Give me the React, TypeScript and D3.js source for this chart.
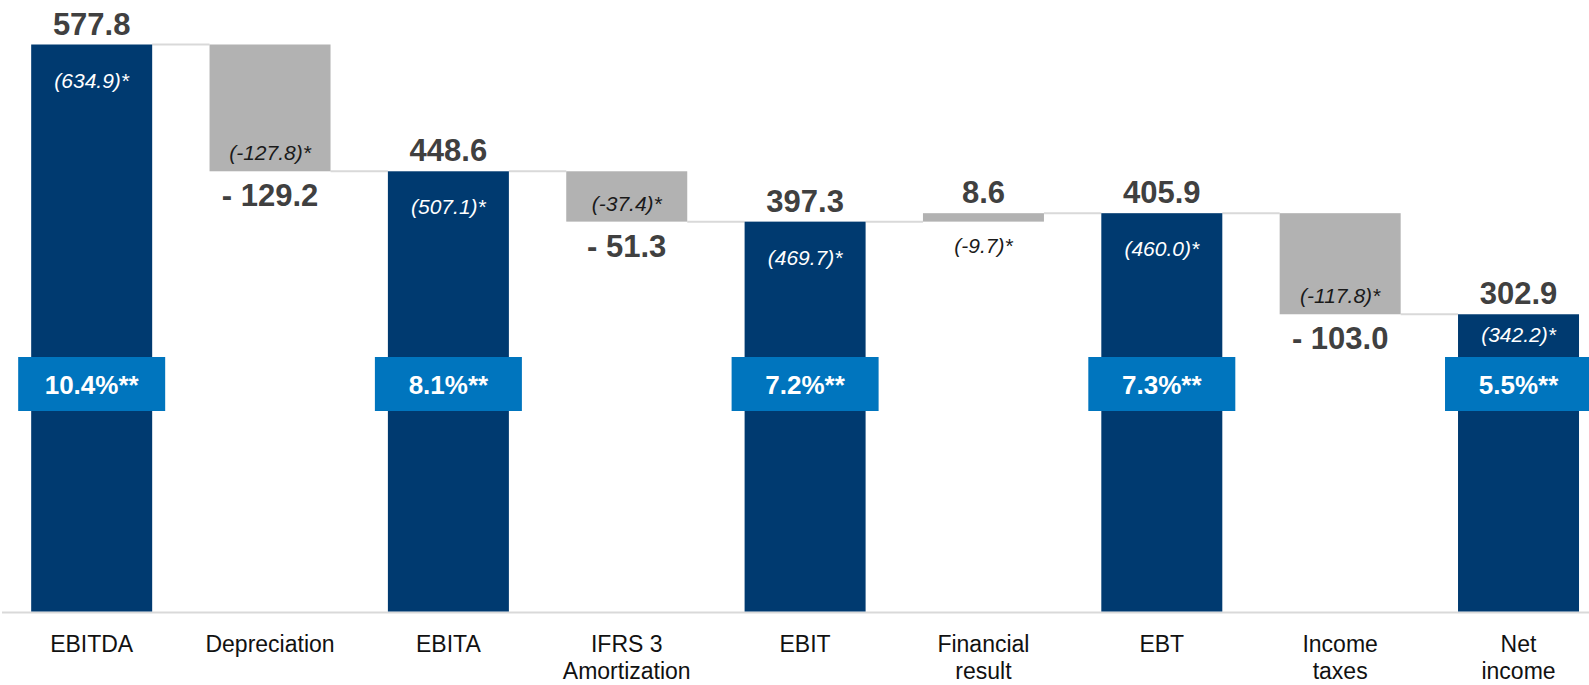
import React from "react";
import * as d3 from "d3";

const categories = ["EBITDA", "Depreciation", "EBITA", "IFRS 3\nAmortization", "EBIT", "Financial\nresult", "EBT", "Income\ntaxes", "Net\nincome"];
const values = [577.8, -129.2, 448.6, -51.3, 397.3, 8.6, 405.9, -103.0, 302.9];
const isTotal = [true, false, true, false, true, false, true, false, true];
const valueLabels = ["577.8", "- 129.2", "448.6", "- 51.3", "397.3", "8.6", "405.9", "- 103.0", "302.9"];
const adjustedLabels = ["(634.9)*", "(-127.8)*", "(507.1)*", "(-37.4)*", "(469.7)*", "(-9.7)*", "(460.0)*", "(-117.8)*", "(342.2)*"];
const marginLabels = ["10.4%**", "", "8.1%**", "", "7.2%**", "", "7.3%**", "", "5.5%**"];

const W = 1589;
const H = 685;
const NAVY = "#003a70";
const GREY = "#b2b2b2";
const BLUE = "#0075be";
const LINE = "#d9d9d9";
const FONT = "'Liberation Sans', Arial, sans-serif";

export default function App() {
  const x = d3.scaleBand<string>().domain(categories).range([2.5, 1607.7]).paddingInner(0.3216).paddingOuter(0.1608);
  const y = d3.scaleLinear().domain([0, 577.8]).range([611.5, 44.5]);
  const bw = x.bandwidth();

  let running = 0;
  const segs = values.map((v, i) => {
    let lo: number, hi: number;
    if (isTotal[i]) {
      lo = 0; hi = v; running = v;
    } else {
      const start = running;
      const end = running + v;
      lo = Math.min(start, end); hi = Math.max(start, end);
      running = end;
    }
    return { i, v, lo, hi, level: running, x0: x(categories[i]) as number };
  });

  const boxTop = 357;
  const boxBottom = 411;
  const boxW = 147;

  return (
    <svg width={W} height={H} style={{ position: "absolute", left: 0, top: 0, display: "block", background: "#fff" }} fontFamily={FONT}>
      {segs.slice(0, -1).map((s, i) => (
        <line key={"c" + i} x1={s.x0 + bw} x2={segs[i + 1].x0} y1={y(s.level)} y2={y(s.level)} stroke={LINE} strokeWidth={2} />
      ))}
      <line x1={2} x2={W} y1={612.5} y2={612.5} stroke={LINE} strokeWidth={2} />
      {segs.map((s) => (
        <rect key={"b" + s.i} x={s.x0} y={y(s.hi)} width={bw} height={Math.max(0, y(s.lo) - y(s.hi))} fill={isTotal[s.i] ? NAVY : GREY} />
      ))}
      {segs.map((s) =>
        marginLabels[s.i] ? (
          <g key={"m" + s.i}>
            <rect x={s.x0 + bw / 2 - boxW / 2} y={boxTop} width={boxW} height={boxBottom - boxTop} fill={BLUE} />
            <text x={s.x0 + bw / 2} y={boxTop + 37} textAnchor="middle" fill="#fff" fontWeight="bold" fontSize={26}>
              {marginLabels[s.i]}
            </text>
          </g>
        ) : null
      )}
      {segs.map((s) => {
        const below = !isTotal[s.i] && s.v < 0;
        const ty = below ? y(s.lo) + 35 : y(s.hi) - 10;
        return (
          <text key={"v" + s.i} x={s.x0 + bw / 2} y={ty} textAnchor="middle" fill="#404040" fontWeight="bold" fontSize={31}>
            {valueLabels[s.i]}
          </text>
        );
      })}
      {segs.map((s) => {
        let ty: number;
        let fill: string;
        if (isTotal[s.i]) {
          ty = Math.min(y(s.hi) + 43, boxTop - 15);
          fill = "#ffffff";
        } else {
          const h = y(s.lo) - y(s.hi);
          ty = h < 30 ? y(s.lo) + 31 : y(s.lo) - 11;
          fill = "#1a1a1a";
        }
        return (
          <text key={"a" + s.i} x={s.x0 + bw / 2} y={ty} textAnchor="middle" fill={fill} fontStyle="italic" fontSize={21}>
            {adjustedLabels[s.i]}
          </text>
        );
      })}
      {categories.map((c, i) => (
        <text key={"t" + i} x={(x(c) as number) + bw / 2} y={652} textAnchor="middle" fill="#111" fontSize={23}>
          {c.split("\n").map((line, j) => (
            <tspan key={j} x={(x(c) as number) + bw / 2} dy={j === 0 ? 0 : 27}>
              {line}
            </tspan>
          ))}
        </text>
      ))}
    </svg>
  );
}
